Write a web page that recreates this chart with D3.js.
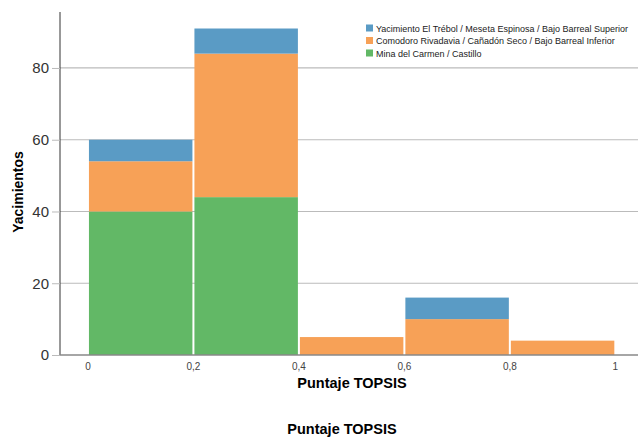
<!DOCTYPE html>
<html>
<head>
<meta charset="utf-8">
<script src="https://cdn.jsdelivr.net/npm/d3@7"></script>
<style>
  body { margin: 0; background: #fff; }
  text { font-family: "Liberation Sans", Arial, sans-serif; }
</style>
</head>
<body>
<div id="chart"></div>
<script>
// bins of the TOPSIS score
var binStarts = [0, 0.2, 0.4, 0.6, 0.8];
var binWidth = 0.2;
var seriesNames = [
  "Mina del Carmen / Castillo",
  "Comodoro Rivadavia / Cañadón Seco / Bajo Barreal Inferior",
  "Yacimiento El Trébol / Meseta Espinosa / Bajo Barreal Superior"
];
var green = [40, 44, 0, 0, 0];
var orange = [14, 40, 5, 10, 4];
var blue = [6, 7, 0, 6, 0];
var colors = ["#62b866", "#f7a157", "#5a9bc5"];
var yTicks = [0, 20, 40, 60, 80];
var xTicks = [0, 0.2, 0.4, 0.6, 0.8, 1];

var width = 638, height = 437;
var margin = { left: 60, top: 12, right: 0, bottom: 82 };

var svg = d3.select("#chart").append("svg")
  .attr("width", width)
  .attr("height", height);

var x = d3.scaleLinear().domain([-0.053, 1.043]).range([margin.left, width - margin.right]);
var y = d3.scaleLinear().domain([0, 95.6]).range([height - margin.bottom, margin.top]);

// gridlines
svg.append("g")
  .selectAll("line")
  .data(yTicks.filter(function (d) { return d > 0; }))
  .enter()
  .append("line")
  .attr("x1", margin.left)
  .attr("x2", width)
  .attr("y1", function (d) { return y(d); })
  .attr("y2", function (d) { return y(d); })
  .attr("stroke", "#bbb")
  .attr("stroke-width", 1.2);

// stacked data
var rows = binStarts.map(function (b, i) {
  return { x0: b, a: green[i], b: orange[i], c: blue[i] };
});
var stack = d3.stack().keys(["a", "b", "c"]);
var layers = stack(rows);

svg.append("g")
  .selectAll("g")
  .data(layers)
  .enter()
  .append("g")
  .attr("fill", function (d, i) { return colors[i]; })
  .selectAll("rect")
  .data(function (d) { return d.filter(function (p) { return p[1] - p[0] > 0; }); })
  .enter()
  .append("rect")
  .attr("x", function (d) { return x(d.data.x0) + 1; })
  .attr("width", function (d) { return x(d.data.x0 + binWidth) - x(d.data.x0) - 2; })
  .attr("y", function (d) { return y(d[1]); })
  .attr("height", function (d) { return y(d[0]) - y(d[1]); });

// y axis
var yAxis = svg.append("g")
  .attr("transform", "translate(" + margin.left + ",0)")
  .call(d3.axisLeft(y).tickValues(yTicks).tickSize(8).tickPadding(3));
yAxis.select(".domain").attr("d", "M0," + margin.top + "V" + y(0)).attr("stroke", "#333");
yAxis.selectAll(".tick line").attr("stroke", "#bbb");
yAxis.selectAll("text").attr("font-size", 15).attr("fill", "#333");

// x axis
svg.append("line")
  .attr("x1", margin.left)
  .attr("x2", width)
  .attr("y1", y(0))
  .attr("y2", y(0))
  .attr("stroke", "#888")
  .attr("stroke-width", 1.5);

svg.append("g")
  .selectAll("text")
  .data(xTicks)
  .enter()
  .append("text")
  .attr("x", function (d) { return x(d); })
  .attr("y", 370)
  .attr("text-anchor", "middle")
  .attr("font-size", 10)
  .attr("fill", "#444")
  .text(function (d) { return String(d).replace(".", ","); });

svg.append("text")
  .attr("x", 352)
  .attr("y", 388)
  .attr("text-anchor", "middle")
  .attr("font-size", 14.5)
  .attr("font-weight", "bold")
  .text("Puntaje TOPSIS");

svg.append("text")
  .attr("x", 342)
  .attr("y", 434)
  .attr("text-anchor", "middle")
  .attr("font-size", 14.5)
  .attr("font-weight", "bold")
  .text("Puntaje TOPSIS");

svg.append("text")
  .attr("transform", "translate(23,192) rotate(-90)")
  .attr("text-anchor", "middle")
  .attr("font-size", 14)
  .attr("font-weight", "bold")
  .text("Yacimientos");

// legend
var legendOrder = [2, 1, 0];
var legend = svg.append("g")
  .selectAll("g")
  .data(legendOrder)
  .enter()
  .append("g")
  .attr("transform", function (d, i) { return "translate(366," + (24.5 + i * 12.5) + ")"; });
legend.append("rect")
  .attr("width", 7)
  .attr("height", 7)
  .attr("fill", function (d) { return colors[d]; });
legend.append("text")
  .attr("x", 10)
  .attr("y", 7)
  .attr("font-size", 9)
  .attr("fill", "#222")
  .text(function (d) { return seriesNames[d]; });
</script>
</body>
</html>
